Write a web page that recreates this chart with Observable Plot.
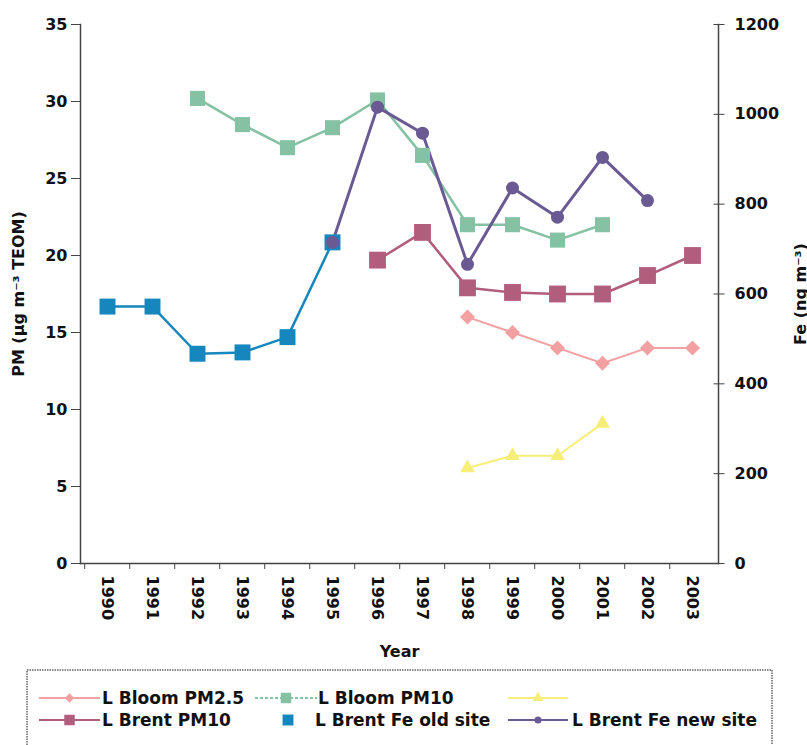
<!DOCTYPE html>
<html><head><meta charset="utf-8">
<script src="https://cdn.jsdelivr.net/npm/d3@7"></script>
<script src="https://cdn.jsdelivr.net/npm/@observablehq/plot@0.6"></script>
<style>
body{margin:0;background:#fff;}
#wrap{position:relative;width:807px;height:745px;overflow:hidden;background:#fff;font-family:"DejaVu Sans",sans-serif;}
#wrap svg.legend{position:absolute;left:0;top:0;}
#plot{position:absolute;left:0;top:0;}
</style></head><body>
<div id="wrap"><div id="plot"></div></div>
<script>
// ---- data ----
const years = ["1990","1991","1992","1993","1994","1995","1996","1997","1998","1999","2000","2001","2002","2003"];
const bloomPM25Years = ["1998","1999","2000","2001","2002","2003"];
const bloomPM25 = [16.0,15.0,14.0,13.0,14.0,14.0];
const bloomPM10Years = ["1992","1993","1994","1995","1996","1997","1998","1999","2000","2001"];
const bloomPM10 = [30.2,28.5,27.0,28.3,30.1,26.5,22.0,22.0,21.0,22.0];
const unnamedYears = ["1998","1999","2000","2001"];
const unnamedSeries = [6.2,7.0,7.0,9.1];
const brentPM10Years = ["1996","1997","1998","1999","2000","2001","2002","2003"];
const brentPM10 = [19.7,21.5,17.9,17.6,17.5,17.5,18.7,20.0];
const feOldYears = ["1990","1991","1992","1993","1994","1995"];
const feOld = [572,572,467,470,504,715];
const feNewYears = ["1995","1996","1997","1998","1999","2000","2001","2002"];
const feNew = [715,1016,958,666,836,771,904,808];
const leftTicks = [0,5,10,15,20,25,30,35];
const rightTicks = [0,200,400,600,800,1000,1200];
const leftMax = 35, rightMax = 1200;

const colors = {
  pm25: "#f3a0a2", bloom10: "#84c2a3", yellow: "#f6ee78",
  brent10: "#b15d7c", feOld: "#1687bd", feNew: "#6a5a93"
};

const k = leftMax / rightMax; // right axis -> left axis units
const rows = (ys, vs, f = 1) => ys.map((year, i) => ({year, value: vs[i] * f}));

const dPM25 = rows(bloomPM25Years, bloomPM25);
const dBloom10 = rows(bloomPM10Years, bloomPM10);
const dYellow = rows(unnamedYears, unnamedSeries);
const dBrent10 = rows(brentPM10Years, brentPM10);
const dFeOld = rows(feOldYears, feOld, k);
const dFeNew = rows(feNewYears, feNew, k);

const W = 807, H = 665, mL = 80, mR = 89, mT = 24, mB = 102;
const step = (W - mL - mR) / years.length;
const axisStroke = "#444";
const font = {fontFamily: "DejaVu Sans", fontWeight: "bold", fontSize: "16px"};

const chart = Plot.plot({
  width: W, height: H,
  marginLeft: mL, marginRight: mR, marginTop: mT, marginBottom: mB,
  style: {...font, color: "#111", background: "white", overflow: "visible"},
  x: {type: "point", domain: years, padding: 0.5},
  y: {domain: [0, leftMax]},
  marks: [
    // axis lines (dotted)
    Plot.frame({anchor: "left", stroke: axisStroke, strokeDasharray: "1.5,1", strokeWidth: 1.5}),
    Plot.frame({anchor: "right", stroke: axisStroke, strokeDasharray: "1.5,1", strokeWidth: 1.5}),
    Plot.frame({anchor: "bottom", stroke: axisStroke, strokeDasharray: "1.5,1", strokeWidth: 1.5}),
    // left axis
    Plot.axisY({anchor: "left", ticks: leftTicks, tickSize: 9, tickPadding: 4, stroke: axisStroke,
      label: "PM (µg m⁻³ TEOM)", labelAnchor: "center", labelOffset: 68, labelArrow: "none"}),
    // right axis crossing ticks (no text) + labels
    Plot.axisY({anchor: "right", ticks: rightTicks.map(v => v * k), tickSize: 11, dx: -5.5,
      tickFormat: null, fill: "none", stroke: axisStroke, label: null}),
    Plot.axisY({anchor: "right", ticks: rightTicks.map(v => v * k), tickSize: 0, tickPadding: 16,
      tickFormat: v => String(Math.round(v / k)),
      label: "Fe (ng m⁻³)", labelAnchor: "center", labelOffset: 87, labelArrow: "none"}),
    // bottom axis: ticks at category boundaries, labels rotated
    Plot.axisX({ticks: years, tickSize: 6, dx: -step / 2, tickFormat: null, fill: "none", stroke: axisStroke, label: null}),
    Plot.axisX({ticks: years, tickSize: 0, tickPadding: 12, tickRotate: 90,
      label: "Year", labelAnchor: "center", labelOffset: 93, labelArrow: "none"}),
    // lines
    Plot.line(dFeOld, {x: "year", y: "value", stroke: colors.feOld, strokeWidth: 2.5}),
    Plot.line(dBloom10, {x: "year", y: "value", stroke: colors.bloom10, strokeWidth: 2.5}),
    Plot.line(dFeNew, {x: "year", y: "value", stroke: colors.feNew, strokeWidth: 3}),
    Plot.line(dBrent10, {x: "year", y: "value", stroke: colors.brent10, strokeWidth: 2.5}),
    Plot.line(dPM25, {x: "year", y: "value", stroke: colors.pm25, strokeWidth: 2}),
    Plot.line(dYellow, {x: "year", y: "value", stroke: colors.yellow, strokeWidth: 2}),
    // markers
    Plot.dot(dFeOld, {x: "year", y: "value", symbol: "square", r: 9, fill: colors.feOld}),
    Plot.dot(dBloom10, {x: "year", y: "value", symbol: "square", r: 8.5, fill: colors.bloom10}),
    Plot.dot(dFeNew, {x: "year", y: "value", symbol: "circle", r: 6.5, fill: colors.feNew}),
    Plot.dot(dBrent10, {x: "year", y: "value", symbol: "square", r: 9.5, fill: colors.brent10}),
    Plot.dot(dPM25, {x: "year", y: "value", symbol: "square", rotate: 45, r: 6, fill: colors.pm25}),
    Plot.dot(dYellow, {x: "year", y: "value", symbol: "triangle", r: 5.5, fill: colors.yellow})
  ]
});
document.getElementById("plot").appendChild(chart);

// ---- legend ----
const legendItems = [
  {row: 0, x0: 39, x1: 100, tx: 102, label: "L Bloom PM2.5", color: colors.pm25, sym: "diamond", line: true},
  {row: 0, x0: 255, x1: 317, tx: 318, label: "L Bloom PM10", color: colors.bloom10, sym: "square", line: true, dash: "3,2"},
  {row: 0, x0: 508, x1: 568, tx: 572, label: "", color: colors.yellow, sym: "triangle", line: true},
  {row: 1, x0: 39, x1: 100, tx: 102, label: "L Brent PM10", color: colors.brent10, sym: "square", line: true},
  {row: 1, x0: 258, x1: 318, tx: 315, label: "L Brent Fe old site", color: colors.feOld, sym: "square", line: false},
  {row: 1, x0: 508, x1: 568, tx: 572, label: "L Brent Fe new site", color: colors.feNew, sym: "circle", line: true}
];
const rowY = [698, 720];
const svg = d3.select("#wrap").append("svg").attr("class", "legend")
  .attr("width", W).attr("height", 745);
svg.append("rect").attr("x", 27).attr("y", 670).attr("width", 745).attr("height", 100)
  .attr("fill", "none").attr("stroke", "#666").attr("stroke-width", 1.5).attr("stroke-dasharray", "1.5,1");
for (const it of legendItems) {
  const y = rowY[it.row];
  const cx = it.line ? (it.x0 + it.x1) / 2 : 288;
  if (it.line) svg.append("line").attr("x1", it.x0).attr("x2", it.x1).attr("y1", y).attr("y2", y)
    .attr("stroke", it.color).attr("stroke-width", 2).attr("stroke-dasharray", it.dash || null);
  let sym, size;
  if (it.sym === "diamond") { sym = d3.symbolSquare; size = 45; }
  else if (it.sym === "triangle") { sym = d3.symbolTriangle; size = 50; }
  else if (it.sym === "circle") { sym = d3.symbolCircle; size = 40; }
  else { sym = d3.symbolSquare; size = it.line ? 110 : 120; }
  svg.append("path").attr("d", d3.symbol(sym, size)())
    .attr("transform", `translate(${cx},${y})` + (it.sym === "diamond" ? " rotate(45)" : ""))
    .attr("fill", it.color);
  if (it.label) svg.append("text").attr("x", it.tx).attr("y", y + 6)
    .attr("font-family", "DejaVu Sans").attr("font-weight", "bold").attr("font-size", 17)
    .attr("fill", "#111").text(it.label);
}
</script>
</body></html>
